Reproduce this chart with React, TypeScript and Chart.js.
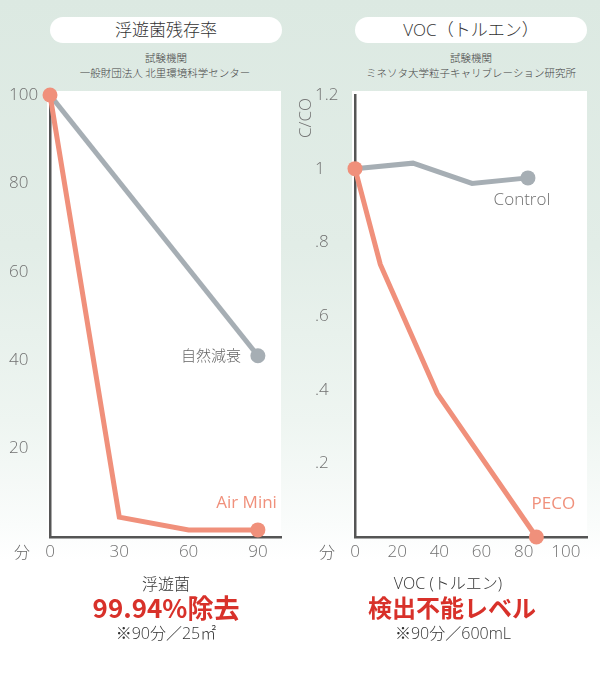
import React, { useEffect, useRef } from 'react';
import { Chart, registerables } from 'chart.js';

Chart.register(...registerables);

// ---- Data: 浮遊菌残存率 ----
const bacteriaTicksX = [0, 30, 60, 90];
const airMiniMinutes = [0, 30, 60, 90];
const airMiniValues = [100, 4.5, 1.6, 1.6];
const naturalMinutes = [0, 90];
const naturalValues = [100, 41];

// ---- Data: VOC（トルエン） ----
const vocTicksX = [0, 20, 40, 60, 80, 100];
const pecoMinutes = [0, 12, 39, 86];
const pecoValues = [1, 0.74, 0.39, 0];
const controlMinutes = [0, 27.5, 55.5, 82];
const controlValues = [1, 1.015, 0.96, 0.975];

const SALMON = '#f0907b';
const GRAY = '#a6aeb4';
const AXIS = '#555555';
const TICK = '#707070';
const RED = '#d8312a';
const LATIN = '"Open Sans", "Noto Sans CJK JP", sans-serif';
const CJK = '"Noto Sans CJK JP", sans-serif';

const plotBg = {
  id: 'plotBg',
  beforeDraw(chart: any) {
    const { ctx, chartArea } = chart;
    ctx.save();
    ctx.fillStyle = '#ffffff';
    ctx.fillRect(chartArea.left - 3, chartArea.top - 4, chartArea.right - chartArea.left + 3, chartArea.bottom - chartArea.top + 4);
    ctx.restore();
  },
};

const endLabels = {
  id: 'endLabels',
  afterDatasetsDraw(chart: any, _args: any, opts: any) {
    const { ctx } = chart;
    (opts.items || []).forEach((it: any) => {
      const meta = chart.getDatasetMeta(it.datasetIndex);
      const pt = meta.data[meta.data.length - 1];
      if (!pt) return;
      ctx.save();
      ctx.font = it.font;
      ctx.fillStyle = it.color;
      ctx.textAlign = it.align;
      ctx.textBaseline = 'middle';
      ctx.fillText(it.text, pt.x + it.dx, pt.y + it.dy);
      ctx.restore();
    });
  },
};

const toPoints = (xs: number[], ys: number[]) => xs.map((x, i) => ({ x, y: ys[i] }));
const radii = (xs: number[], show: number[]) => xs.map((_, i) => (show.includes(i) ? 7.5 : 0));

const tickFont = { family: LATIN, size: 17, weight: '300' };

function lineDataset(label: string, xs: number[], ys: number[], color: string, marks: number[]) {
  return {
    label,
    data: toPoints(xs, ys),
    showLine: true,
    borderColor: color,
    backgroundColor: color,
    borderWidth: 5,
    pointRadius: radii(xs, marks),
    pointHoverRadius: 0,
    pointBorderWidth: 0,
    clip: false,
  };
}

function BacteriaChart() {
  const ref = useRef<HTMLCanvasElement>(null);
  useEffect(() => {
    const chart = new Chart(ref.current as HTMLCanvasElement, {
      type: 'scatter',
      data: {
        datasets: [
          lineDataset('Air Mini', airMiniMinutes, airMiniValues, SALMON, [0, airMiniMinutes.length - 1]),
          lineDataset('自然減衰', naturalMinutes, naturalValues, GRAY, [naturalMinutes.length - 1]),
        ] as any,
      },
      options: {
        animation: false,
        responsive: false,
        devicePixelRatio: 1,
        events: [],
        layout: { padding: { left: 9, right: 19, top: 15, bottom: 3 }, autoPadding: false },
        plugins: {
          legend: { display: false },
          tooltip: { enabled: false },
          endLabels: {
            items: [
              { datasetIndex: 1, text: '自然減衰', color: '#666', font: `300 15px ${CJK}`, align: 'right', dx: -17, dy: 0 },
              { datasetIndex: 0, text: 'Air Mini', color: SALMON, font: `17px ${LATIN}`, align: 'right', dx: 19, dy: -27 },
            ],
          },
        } as any,
        scales: {
          x: {
            type: 'linear',
            min: 0,
            max: 100,
            grid: { display: false, drawTicks: false },
            border: { display: true, color: AXIS, width: 2.5 },
            afterBuildTicks: (s: any) => { s.ticks = bacteriaTicksX.map((v) => ({ value: v })); },
            afterFit: (s: any) => { s.height = 30; },
            ticks: { padding: 5, font: tickFont, color: TICK, maxRotation: 0, autoSkip: false },
          },
          y: {
            type: 'linear',
            min: 0,
            max: 100,
            grid: { display: false, drawTicks: false },
            border: { display: true, color: AXIS, width: 2.5 },
            afterFit: (s: any) => { s.width = 41; },
            ticks: {
              stepSize: 20,
              crossAlign: 'far',
              padding: 0,
              font: tickFont,
              color: TICK,
              callback: (v: any) => (Number(v) === 0 ? '' : String(v)),
            },
          },
        } as any,
      },
      plugins: [plotBg, endLabels],
    });
    return () => chart.destroy();
  }, []);
  return <canvas ref={ref} width={300} height={490} style={{ position: 'absolute', left: 0, top: 80, width: 300, height: 490 }} />;
}

function VocChart() {
  const ref = useRef<HTMLCanvasElement>(null);
  useEffect(() => {
    const chart = new Chart(ref.current as HTMLCanvasElement, {
      type: 'scatter',
      data: {
        datasets: [
          lineDataset('PECO', pecoMinutes, pecoValues, SALMON, [0, pecoMinutes.length - 1]),
          lineDataset('Control', controlMinutes, controlValues, GRAY, [controlMinutes.length - 1]),
        ] as any,
      },
      options: {
        animation: false,
        responsive: false,
        devicePixelRatio: 1,
        events: [],
        layout: { padding: { left: 15, right: 13, top: 15, bottom: 3 }, autoPadding: false },
        plugins: {
          legend: { display: false },
          tooltip: { enabled: false },
          endLabels: {
            items: [
              { datasetIndex: 1, text: 'Control', color: '#707070', font: `300 17px ${LATIN}`, align: 'center', dx: -6, dy: 22 },
              { datasetIndex: 0, text: 'PECO', color: SALMON, font: `17px ${LATIN}`, align: 'center', dx: 17, dy: -33 },
            ],
          },
        } as any,
        scales: {
          x: {
            type: 'linear',
            min: 0,
            max: 110,
            grid: { display: false, drawTicks: false },
            border: { display: true, color: AXIS, width: 2.5 },
            afterBuildTicks: (s: any) => { s.ticks = vocTicksX.map((v) => ({ value: v })); },
            afterFit: (s: any) => { s.height = 30; },
            ticks: { padding: 5, font: tickFont, color: TICK, maxRotation: 0, autoSkip: false },
          },
          y: {
            type: 'linear',
            min: 0,
            max: 1.2,
            grid: { display: false, drawTicks: false },
            border: { display: true, color: AXIS, width: 2.5 },
            afterFit: (s: any) => { s.width = 40; },
            ticks: {
              stepSize: 0.2,
              crossAlign: 'far',
              padding: 0,
              font: tickFont,
              color: TICK,
              callback: (v: any) => {
                const r = Math.round(Number(v) * 10) / 10;
                if (r === 0) return '';
                return r < 1 ? String(r).replace(/^0/, '') : String(r);
              },
            },
          },
        } as any,
      },
      plugins: [plotBg, endLabels],
    });
    return () => chart.destroy();
  }, []);
  return <canvas ref={ref} width={300} height={490} style={{ position: 'absolute', left: 300, top: 80, width: 300, height: 490 }} />;
}

function Text(props: { x: number; y: number; size: number; color?: string; weight?: number | string; family?: string; children: React.ReactNode }) {
  const { x, y, size, color = '#333', weight = 300, family = CJK, children } = props;
  return (
    <div
      style={{
        position: 'absolute',
        left: x - 200,
        width: 400,
        top: y - size,
        height: size * 2,
        lineHeight: `${size * 2}px`,
        textAlign: 'center',
        fontSize: size,
        color,
        fontWeight: weight as any,
        fontFamily: family,
        whiteSpace: 'nowrap',
      }}
    >
      {children}
    </div>
  );
}

function Pill(props: { left: number; width: number; text: string }) {
  return (
    <div
      style={{
        position: 'absolute',
        left: props.left,
        top: 17,
        width: props.width,
        height: 26,
        borderRadius: 13,
        background: '#ffffff',
      }}
    >
      <div style={{ position: 'absolute', left: 0, right: 0, top: 0, lineHeight: '26px', textAlign: 'center', fontSize: 17, fontWeight: 300, color: '#333', fontFamily: LATIN, whiteSpace: 'nowrap' }}>
        {props.text}
      </div>
    </div>
  );
}

export default function App() {
  useEffect(() => {
    document.body.style.margin = '0';
  }, []);
  return (
    <div
      style={{
        position: 'relative',
        width: 600,
        height: 700,
        overflow: 'hidden',
        background: 'linear-gradient(180deg, #dce9e2 0%, #e2ede7 35%, #eef5f1 60%, #fafcfb 75%, #ffffff 80%, #ffffff 100%)',
      }}
    >
      <Pill left={50} width={232} text="浮遊菌残存率" />
      <Pill left={355} width={232} text="VOC（トルエン）" />

      <Text x={166} y={57} size={10.5} color="#444">試験機関</Text>
      <Text x={165} y={72} size={10.5} color="#444">一般財団法人 北里環境科学センター</Text>
      <Text x={471} y={57} size={10.5} color="#444">試験機関</Text>
      <Text x={471} y={72} size={10.5} color="#444">ミネソタ大学粒子キャリブレーション研究所</Text>

      <BacteriaChart />
      <VocChart />

      <div
        style={{
          position: 'absolute',
          left: 305 - 30,
          top: 118 - 10,
          width: 60,
          height: 20,
          lineHeight: '20px',
          textAlign: 'center',
          fontSize: 17,
          fontWeight: 300,
          color: TICK,
          fontFamily: LATIN,
          transform: 'rotate(-90deg)',
        }}
      >
        C/CO
      </div>

      <Text x={22} y={551} size={16} color="#666">分</Text>
      <Text x={327} y={551} size={16} color="#666">分</Text>

      <Text x={166} y={583} size={16} color="#333">浮遊菌</Text>
      <Text x={166} y={607} size={26} color={RED} weight="bold">99.94%除去</Text>
      <Text x={166} y={633} size={16} color="#333" family={LATIN}>※90分／25㎡</Text>

      <Text x={448} y={583} size={16} color="#333" family={LATIN}>VOC (トルエン)</Text>
      <Text x={452} y={607} size={24} color={RED} weight="bold">検出不能レベル</Text>
      <Text x={453} y={633} size={16} color="#333" family={LATIN}>※90分／600mL</Text>
    </div>
  );
}
